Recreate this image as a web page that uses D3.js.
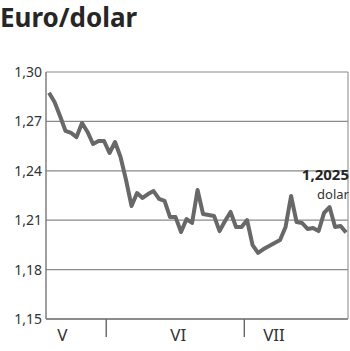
<!DOCTYPE html>
<html>
<head>
<meta charset="utf-8">
<script src="https://cdn.jsdelivr.net/npm/d3@7"></script>
<style>
  body { margin: 0; background: #fff; }
  svg { display: block; font-family: "Noto Sans", sans-serif; }
</style>
</head>
<body>
<div id="chart"></div>
<script>
// Chart values (trading days, May - July)
const rates = [
  1.2874, 1.2818, 1.2733, 1.2642, 1.2630, 1.2605, 1.2690, 1.2636, 1.2563, 1.2581,
  1.2581, 1.2508, 1.2575, 1.2484, 1.2344, 1.2186, 1.2265, 1.2235, 1.2259, 1.2277,
  1.2229, 1.2217, 1.2119, 1.2119, 1.2028, 1.2107, 1.2083, 1.2283, 1.2138, 1.2132,
  1.2126, 1.2034, 1.2095, 1.2150, 1.2059, 1.2059, 1.2101, 1.1949, 1.1901, 1.1925,
  1.1943, 1.1962, 1.1980, 1.2059, 1.2247, 1.2089, 1.2083, 1.2047, 1.2053, 1.2034,
  1.2144, 1.2180, 1.2059, 1.2065, 1.2025
];
const yTicks = [1.15, 1.18, 1.21, 1.24, 1.27, 1.30];
const monthBreaks = [10.4, 35.5];          // day index where a new month starts
const monthNames = ["V", "VI", "VII"];
const monthLabelPos = [2.4, 23.5, 40.9];   // day index under which the name sits
const lastLabel = "1,2025";
const lastUnit = "dolar";

const width = 350, height = 351;
const margin = { top: 72, right: 2, bottom: 32, left: 46 };

const svg = d3.select("#chart").append("svg")
    .attr("width", width)
    .attr("height", height);

// Title
svg.append("text")
    .attr("x", 0)
    .attr("y", 27)
    .style("font-size", "26px")
    .style("font-weight", "bold")
    .style("fill", "#262626")
    .text("Euro/dolar");

const x = d3.scaleLinear()
    .domain([-0.55, 54.35])
    .range([margin.left, width - margin.right]);

const y = d3.scaleLinear()
    .domain([1.15, 1.30])
    .range([height - margin.bottom, margin.top]);

const fmt = d => d.toFixed(2).replace(".", ",");

// Horizontal grid lines
svg.append("g")
    .selectAll("line")
    .data(yTicks)
    .join("line")
    .attr("x1", margin.left)
    .attr("x2", width - margin.right)
    .attr("y1", d => y(d))
    .attr("y2", d => y(d))
    .attr("stroke", d => d === 1.15 ? "#666" : "#8a8a8a")
    .attr("stroke-width", d => d === 1.15 ? 1.6 : 1.2);

// Y tick labels
svg.append("g")
    .selectAll("text")
    .data(yTicks)
    .join("text")
    .attr("x", margin.left - 4)
    .attr("y", d => y(d))
    .attr("dy", "0.35em")
    .attr("text-anchor", "end")
    .style("font-size", "14px")
    .style("fill", "#333")
    .text(fmt);

// Left and right frame lines
svg.append("line")
    .attr("x1", margin.left).attr("x2", margin.left)
    .attr("y1", y(1.30)).attr("y2", y(1.15))
    .attr("stroke", "#777").attr("stroke-width", 1.4);
svg.append("line")
    .attr("x1", width - margin.right).attr("x2", width - margin.right)
    .attr("y1", y(1.30)).attr("y2", y(1.15))
    .attr("stroke", "#999").attr("stroke-width", 1.2);

// Month separators below the axis
svg.append("g")
    .selectAll("line")
    .data(monthBreaks)
    .join("line")
    .attr("x1", d => x(d)).attr("x2", d => x(d))
    .attr("y1", y(1.15)).attr("y2", y(1.15) + 18)
    .attr("stroke", "#666")
    .attr("stroke-width", 1.4);

// Month names
svg.append("g")
    .selectAll("text")
    .data(monthNames)
    .join("text")
    .attr("x", (d, i) => x(monthLabelPos[i]))
    .attr("y", height - 10)
    .attr("text-anchor", "middle")
    .style("font-size", "17px")
    .style("fill", "#333")
    .text(d => d);

// The rate line
const line = d3.line()
    .x((d, i) => x(i))
    .y(d => y(d));

svg.append("path")
    .datum(rates)
    .attr("d", line)
    .attr("fill", "none")
    .attr("stroke", "#686868")
    .attr("stroke-width", 4)
    .attr("stroke-linejoin", "round")
    .attr("stroke-linecap", "butt");

// Last value annotation
const lastX = width - 1;
svg.append("text")
    .attr("x", lastX)
    .attr("y", 180)
    .attr("text-anchor", "end")
    .style("font-size", "15px")
    .style("font-weight", "bold")
    .style("fill", "#262626")
    .text(lastLabel);
svg.append("text")
    .attr("x", lastX)
    .attr("y", 199)
    .attr("text-anchor", "end")
    .style("font-size", "13px")
    .style("fill", "#333")
    .text(lastUnit);
</script>
</body>
</html>
